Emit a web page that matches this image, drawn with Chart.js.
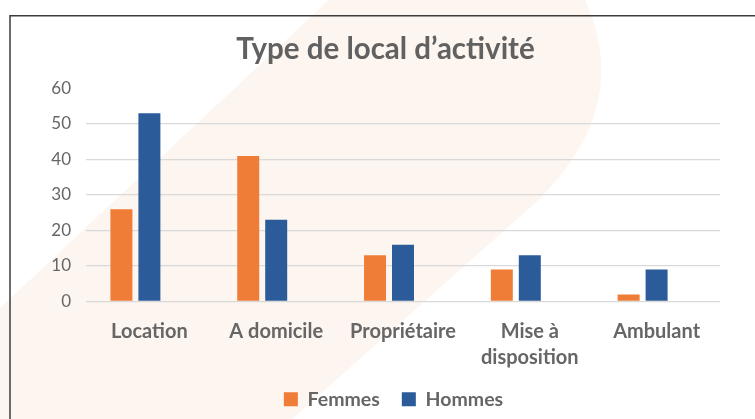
<!DOCTYPE html>
<html>
<head>
<meta charset="utf-8">
<script src="https://cdn.jsdelivr.net/npm/chart.js@4/dist/chart.umd.min.js"></script>
<style>
html,body{margin:0;padding:0;background:#fff;}
#wrap{width:755px;height:419px;position:relative;}
</style>
</head>
<body>
<div id="wrap"><canvas id="c"></canvas></div>
<script>
// ---- data ----
const categories = ['Location', 'A domicile', 'Propriétaire', ['Mise à', 'disposition'], 'Ambulant'];
const femmes = [26, 41, 13, 9, 2];
const hommes = [53, 23, 16, 13, 9];
const spacer = [null, null, null, null, null];
const seriesNames = ['Femmes', 'Hommes'];
const yTicks = [0, 10, 20, 30, 40, 50, 60];
const chartTitle = 'Type de local d’activité';

const ORANGE = '#EF7D37';
const BLUE = '#2B5B99';
const TEXT = '#666666';

const backdrop = {
  id: 'backdrop',
  afterLayout(chart) {
    if (chart.legend) { chart.legend.left += 8; chart.legend.right += 8; }
  },
  beforeDraw(chart) {
    const ctx = chart.ctx, w = chart.width, h = chart.height;
    ctx.save();
    ctx.fillStyle = '#ffffff';
    ctx.fillRect(0, 0, w, h);
    // faint decorative band
    ctx.fillStyle = '#FDF5EF';
    ctx.beginPath();
    ctx.moveTo(0, 308);
    ctx.lineTo(329, 0);
    ctx.lineTo(585, 0);
    ctx.bezierCurveTo(612, 60, 612, 130, 533, 205);
    ctx.lineTo(292, h);
    ctx.lineTo(0, h);
    ctx.closePath();
    ctx.fill();
    // frame
    ctx.strokeStyle = '#3c3c3c';
    ctx.lineWidth = 1.5;
    ctx.beginPath();
    ctx.moveTo(10, h);
    ctx.lineTo(10, 15.7);
    ctx.lineTo(w, 15.7);
    ctx.stroke();
    ctx.restore();
  }
};

function build() {
  new Chart(document.getElementById('c'), {
    type: 'bar',
    data: {
      labels: categories,
      datasets: [
        { label: seriesNames[0], data: femmes, backgroundColor: ORANGE, borderWidth: 0, categoryPercentage: 0.662, barPercentage: 0.786 },
        { label: seriesNames[1], data: hommes, backgroundColor: BLUE, borderWidth: 0, categoryPercentage: 0.662, barPercentage: 0.786 },
        { label: '', data: spacer, backgroundColor: 'rgba(0,0,0,0)', borderWidth: 0, categoryPercentage: 0.662, barPercentage: 0.786 }
      ]
    },
    options: {
      responsive: true,
      maintainAspectRatio: false,
      animation: false,
      layout: { padding: { left: 41, right: 25, top: 0, bottom: 0 } },
      scales: {
        x: {
          afterFit(s) { s.height = 66; },
          grid: { display: false },
          border: { display: false },
          ticks: {
            color: TEXT,
            font: { family: 'Lato', size: 20, weight: 'bold', lineHeight: 1.3 },
            padding: 9,
            maxRotation: 0,
            autoSkip: false
          }
        },
        y: {
          min: 0, max: 60,
          afterFit(s) { s.width = 45; },
          afterBuildTicks(s) { s.ticks = yTicks.map(v => ({ value: v })); },
          border: { display: false },
          grid: {
            drawTicks: false,
            lineWidth: 1.3,
            color: c => (c.tick && c.tick.value === 60) ? 'rgba(0,0,0,0)' : '#D9D9D9'
          },
          ticks: {
            color: TEXT,
            font: { family: 'Lato', size: 17 },
            padding: 15
          }
        },
        yRightGap: {
          type: 'linear',
          position: 'right',
          display: true,
          afterFit(s) { s.width = 10; },
          grid: { display: false },
          border: { display: false },
          ticks: { display: false }
        }
      },
      plugins: {
        title: {
          display: true,
          text: chartTitle,
          color: '#616161',
          font: { family: 'Lato', size: 29.5, weight: 'bold', lineHeight: 1.2 },
          padding: { top: 32, bottom: 21 }
        },
        legend: {
          position: 'bottom',
          labels: {
            boxWidth: 14,
            boxHeight: 14,
            color: TEXT,
            font: { family: 'Lato', size: 19.5, weight: 'bold' },
            padding: 22,
            filter: item => item.datasetIndex < 2
          }
        },
        tooltip: { enabled: false }
      }
    },
    plugins: [backdrop]
  });
}

if (document.fonts && document.fonts.load) {
  Promise.all([
    document.fonts.load('bold 29.5px Lato'),
    document.fonts.load('bold 20px Lato'),
    document.fonts.load('17px Lato')
  ]).then(build, build);
} else {
  build();
}
</script>
</body>
</html>
